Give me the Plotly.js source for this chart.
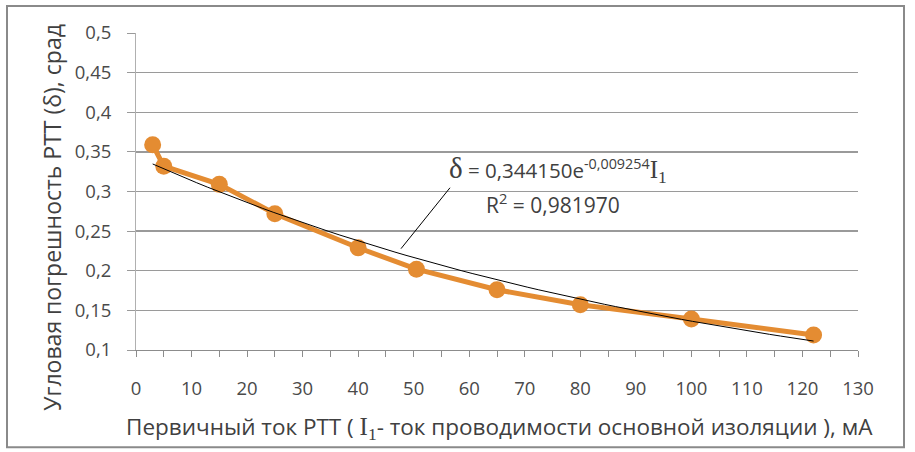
<!DOCTYPE html>
<html>
<head>
<meta charset="utf-8">
<script src="https://cdn.plot.ly/plotly-3.0.1.min.js"></script>
<style>
html,body{margin:0;padding:0;background:#fff;}
#chart{width:915px;height:452px;}
</style>
</head>
<body>
<div id="chart"></div>
<script>
var currentMA = [3, 5, 15, 25, 40, 50.5, 65, 80, 100, 122];
var deltaSrad = [0.359, 0.332, 0.309, 0.272, 0.229, 0.202, 0.176, 0.157, 0.139, 0.119];

// Exponential trendline shown on the chart: δ = a·e^(b·I1)
var trendA = 0.344150;
var trendB = -0.009254;
var trendR2 = 0.981970;

var xTicks = [0, 10, 20, 30, 40, 50, 60, 70, 80, 90, 100, 110, 120, 130];
var yTicks = [0.1, 0.15, 0.2, 0.25, 0.3, 0.35, 0.4, 0.45, 0.5];
var yTickText = ['0,1', '0,15', '0,2', '0,25', '0,3', '0,35', '0,4', '0,45', '0,5'];

// trendline over the data span
var trendX = [], trendY = [];
var xMin = currentMA[0], xMax = currentMA[currentMA.length - 1];
for (var i = 0; i <= 60; i++) {
  var xv = xMin + (xMax - xMin) * i / 60;
  trendX.push(xv);
  trendY.push(trendA * Math.exp(trendB * xv));
}

function fmt(v, d) { return v.toFixed(d).replace('.', ','); }

var W = 915, H = 452;
var L = 136, R = 858, T = 33, B = 350.5;
var pw = R - L, ph = B - T;
function px(x) { return (x - L) / pw; }
function py(y) { return (B - y) / ph; }

var traces = [
  {
    x: currentMA, y: deltaSrad, type: 'scatter', mode: 'lines+markers',
    line: {color: '#E48C32', width: 5},
    marker: {color: '#E48C32', size: 17},
    hoverinfo: 'x+y', showlegend: false
  },
  {
    x: trendX, y: trendY, type: 'scatter', mode: 'lines',
    line: {color: '#000000', width: 1},
    hoverinfo: 'skip', showlegend: false
  }
];

var tickFont = {family: 'Open Sans, sans-serif', size: 18.5, color: '#4a4a4a'};
var serif = "font-family:'Liberation Serif',serif;";

var layout = {
  width: W, height: H,
  margin: {l: L, r: W - R, t: T, b: H - B, pad: 0},
  paper_bgcolor: '#ffffff', plot_bgcolor: '#ffffff',
  showlegend: false,
  xaxis: {
    range: [0, 130], tickvals: xTicks, ticktext: xTicks.map(String),
    showgrid: false, zeroline: false,
    showline: true, linecolor: '#8c8c8c', linewidth: 1,
    ticks: 'outside', ticklen: 6, tickcolor: '#8c8c8c', tickwidth: 1,
    minor: {dtick: 5, ticks: 'outside', ticklen: 6, tickcolor: '#8c8c8c', showgrid: false},
    tickfont: tickFont, ticklabelstandoff: 16,
    automargin: false
  },
  yaxis: {
    range: [0.1, 0.5], tickvals: yTicks, ticktext: yTickText,
    showgrid: true, gridcolor: '#9a9a9a', gridwidth: 1.3,
    zeroline: false,
    showline: true, linecolor: '#b0b0b0', linewidth: 1,
    ticks: 'outside', ticklen: 8, tickcolor: '#9a9a9a', tickwidth: 1,
    tickfont: tickFont, ticklabelstandoff: 12,
    automargin: false
  },
  annotations: [
    // x-axis title
    {
      xref: 'paper', yref: 'paper', x: px(500), y: py(428), xanchor: 'center', yanchor: 'middle',
      showarrow: false,
      text: "Первичный ток РТТ ( <span style=\"" + serif + "font-size:25px\">I<sub>1</sub></span>- ток проводимости основной изоляции ), мА",
      font: {family: 'Open Sans, sans-serif', size: 22.5, color: '#404040'}
    },
    // y-axis title
    {
      xref: 'paper', yref: 'paper', x: px(52), y: py(218), xanchor: 'center', yanchor: 'middle',
      showarrow: false, textangle: -90,
      text: 'Угловая погрешность РТТ (δ), срад',
      font: {family: 'Open Sans, sans-serif', size: 23, color: '#404040'}
    },
    // trendline equation
    {
      xref: 'paper', yref: 'paper', x: px(558), y: py(170), xanchor: 'center', yanchor: 'middle',
      showarrow: false,
      text: "<span style=\"" + serif + "font-size:29px\">δ</span> = " + fmt(trendA, 6) +
            "e<sup>" + fmt(trendB, 6) + "</sup><span style=\"" + serif + "font-size:25px\">I<sub>1</sub></span>",
      font: {family: 'Open Sans, sans-serif', size: 20.5, color: '#404040'}
    },
    {
      xref: 'paper', yref: 'paper', x: px(553), y: py(204), xanchor: 'center', yanchor: 'middle',
      showarrow: false,
      text: "R<sup>2</sup> = " + fmt(trendR2, 6),
      font: {family: 'Open Sans, sans-serif', size: 21, color: '#404040'}
    }
  ],
  shapes: [
    // leader line from trendline label to the curve
    {type: 'line', xref: 'paper', yref: 'paper', x0: px(401), y0: py(249), x1: px(450), y1: py(188),
     line: {color: '#000000', width: 1}},
    // outer chart frame
    {type: 'rect', xref: 'paper', yref: 'paper', x0: px(7), y0: py(6), x1: px(904), y1: py(448),
     line: {color: '#8a8a8a', width: 2}, layer: 'above'}
  ]
};

Plotly.newPlot('chart', traces, layout, {staticPlot: true, displayModeBar: false});
</script>
</body>
</html>
